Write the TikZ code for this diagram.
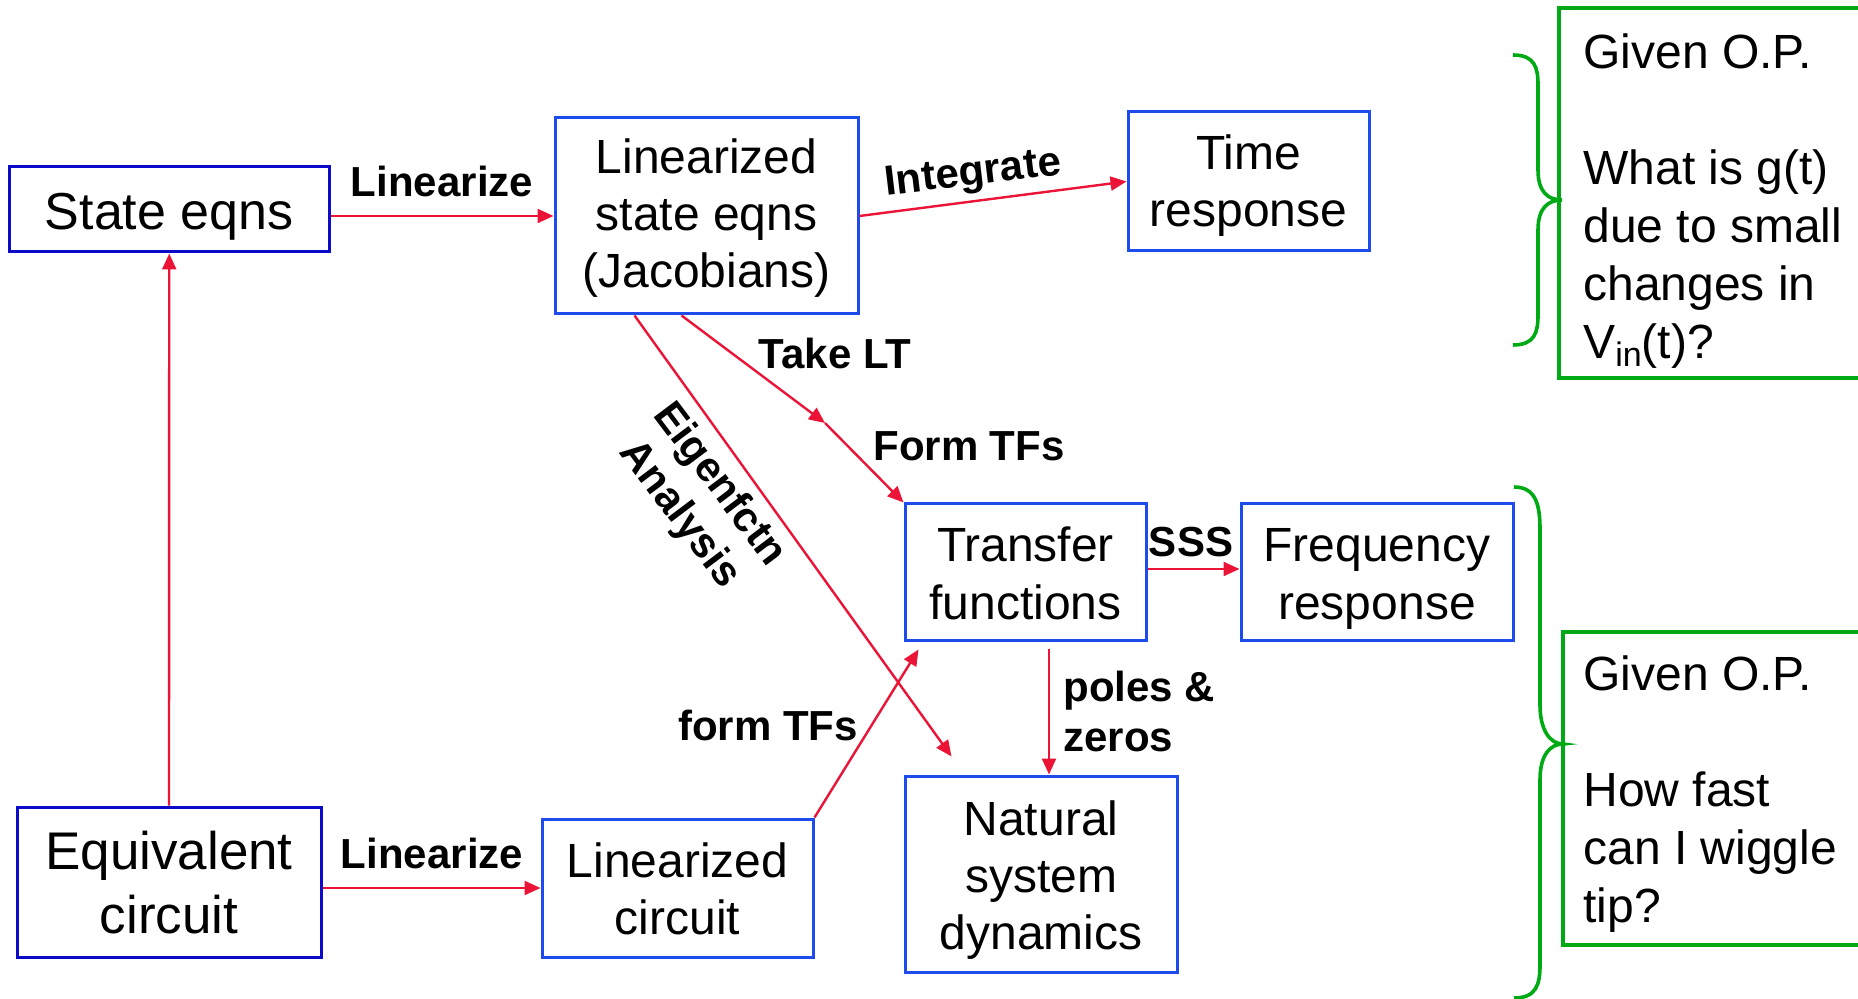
\documentclass[tikz,border=0pt]{standalone}
\usepackage{fontspec}
\setmainfont{Liberation Sans}
\usetikzlibrary{arrows.meta}
\definecolor{boxblue}{RGB}{30,75,235}
\definecolor{darkblue}{RGB}{10,10,200}
\definecolor{arrred}{RGB}{235,20,55}
\definecolor{grncol}{RGB}{0,170,20}
\tikzset{
 box/.style={draw=boxblue, line width=1.5pt, inner sep=0pt, align=center, font=\fontsize{24}{28.5}\selectfont, text depth=0pt},
 boxd/.style={box, draw=darkblue},
 lbl/.style={font=\fontsize{21}{25}\selectfont\bfseries, inner sep=0pt},
 arr/.style={draw=arrred, line width=1.2pt, -{Triangle[length=8pt,width=7pt]}},
 note/.style={font=\fontsize{24}{29}\selectfont, align=left, inner sep=0pt, anchor=north west},
 grn/.style={draw=grncol, line width=1.8pt},
}
\begin{document}
\begin{tikzpicture}[x=0.5pt,y=-0.5pt]
\useasboundingbox (0,0) rectangle (1858,999);
% boxes (text height = distance in px from box centre down to last baseline)
\node[boxd, minimum width=159.75pt, minimum height=42.5pt, font=\fontsize{26}{31}\selectfont, text height=20.5pt] (se) at (169.25,209.5) {State eqns};
\node[box, minimum width=151.5pt, minimum height=98pt, text height=72pt] (lse) at (706.5,216) {Linearized\\state eqns\\(Jacobians)};
\node[box, minimum width=120.5pt, minimum height=69.5pt, text height=45.5pt] (tr) at (1248.5,181.5) {Time\\response};
\node[box, minimum width=120.5pt, minimum height=68.5pt, text height=46.5pt] (tf) at (1025.5,572.5) {Transfer\\functions};
\node[box, minimum width=136pt, minimum height=68.5pt, text height=46.5pt] (fr) at (1377,572.5) {Frequency\\response};
\node[box, minimum width=136pt, minimum height=98pt, text height=75pt] (nsd) at (1041,874) {Natural\\system\\dynamics};
\node[boxd, minimum width=152pt, minimum height=75pt, font=\fontsize{26.5}{32}\selectfont, text height=51pt] (ec) at (169,882) {Equivalent\\circuit};
\node[box, minimum width=135.5pt, minimum height=69pt, text height=46pt] (lc) at (677.5,888) {Linearized\\circuit};
% labels
\node[lbl] (l1) at (442,181) {Linearize};
\node[lbl, rotate=6.8] (l2) at (973,175) {Integrate};
\node[lbl] (l3) at (835,353) {Take LT};
\node[lbl] (l4) at (969,446) {Form TFs};
\node[lbl, rotate=-53, align=center] (l5) at (699,500) {Eigenfctn\\Analysis};
\node[lbl] (l6) at (768,725) {form TFs};
\node[lbl] (l7) at (1191,542) {SSS};
\node[lbl, align=left, anchor=west] (l8) at (1063,711) {poles \&\\zeros};
\node[lbl] (l9) at (432,853) {Linearize};
% arrows
\coordinate (mlt) at (825,423);
\draw[arr] (se.east |- lse.west) -- (lse.west);
\draw[arr] (lse.east) -- (tr.west);
\draw[arr] (ec.north) -- (se.south);
\draw[arr] (ec.east |- lc.west) -- (lc.west);
\draw[arr] ([xshift=-12.5pt]lse.south) -- (mlt);
\draw[arr] (mlt) -- (tf.north west);
\draw[arr] ([xshift=-36pt]lse.south) -- ([xshift=24pt,yshift=9pt]nsd.north west);
\draw[arr] (lc.north east) -- ([xshift=7.5pt,yshift=-3.5pt]tf.south west);
\draw[arr] ([yshift=1.75pt]tf.east) -- ([yshift=1.75pt]fr.west);
\draw[arr] ([xshift=11.75pt,yshift=-3.5pt]tf.south) -- ([xshift=4pt]nsd.north);
% braces
\draw[grn] (1513,55) .. controls (1535,55) and (1538,68) .. (1538,85) -- (1538,170) .. controls (1538,192) and (1548,200) .. (1562,200) .. controls (1548,200) and (1538,208) .. (1538,230) -- (1538,315) .. controls (1538,332) and (1535,345) .. (1513,345);
\draw[grn] (1514,487) .. controls (1536,487) and (1540,505) .. (1540,530) -- (1540,705) .. controls (1540,730) and (1550,744) .. (1563,744) .. controls (1550,744) and (1540,755) .. (1540,780) -- (1540,965) .. controls (1540,985) and (1536,998) .. (1514,998);
% green boxes
\draw[grn] (1870,8) -- (1559,8) -- (1559,378) -- (1870,378);
\draw[grn] (1870,632) -- (1563,632) -- (1563,945) -- (1870,945);
\node[note] (n1) at (1583,33) {Given O.P.\\\mbox{}\\What is g(t)\\due to small\\changes in\\V\raisebox{-4pt}{\fontsize{17}{17}\selectfont in}(t)?};
\node[note] (n2) at (1583,655) {Given O.P.\\\mbox{}\\How fast\\can I wiggle\\tip?};
\end{tikzpicture}
\end{document}
